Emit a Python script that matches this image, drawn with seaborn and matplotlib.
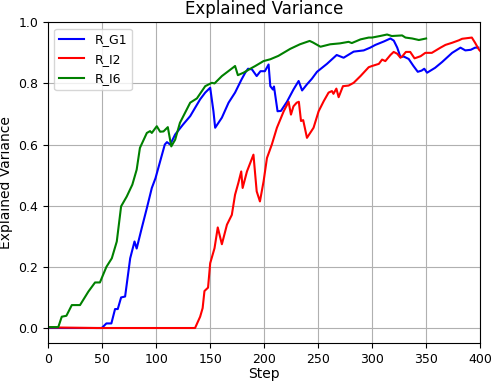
import matplotlib
matplotlib.use("Agg")
import matplotlib.pyplot as plt
import seaborn as sns

plt.rcParams["font.family"] = "DejaVu Sans"

# -----------------------------------------------------------
# Data
# -----------------------------------------------------------
g1_step = [0, 10, 30, 49.7, 54, 58.6, 62, 64.5, 67.6, 71.3, 76, 80, 82, 86.7, 91.4,
           96, 99.4, 103.7, 108, 110, 113, 117.6, 125, 131.5, 136, 140.7, 145.4, 150,
           153, 154.6, 160.8, 167, 173, 179, 182.4, 185, 188.6, 193, 196.5, 200.6, 204,
           205.6, 208, 209, 212.3, 215.4, 221, 227, 231.8, 235, 239.5, 244, 248.8, 258,
           267, 273.4, 282.7, 292, 298, 302.8, 310.5, 316.7, 319.8, 323, 326, 329, 333.6,
           338, 342, 345.6, 348, 350.6, 358, 364.5, 373.8, 381.5, 386, 391, 395, 398]
g1_val = [0.0, 0.0, 0.0, 0.0, 0.015, 0.015, 0.062, 0.062, 0.10, 0.103, 0.228, 0.283, 0.26,
          0.327, 0.392, 0.458, 0.49, 0.545, 0.60, 0.608, 0.60, 0.633, 0.666, 0.693, 0.72,
          0.748, 0.77, 0.786, 0.709, 0.655, 0.688, 0.737, 0.77, 0.813, 0.835, 0.848, 0.846,
          0.824, 0.84, 0.84, 0.862, 0.791, 0.78, 0.79, 0.709, 0.71, 0.74, 0.78, 0.808,
          0.777, 0.797, 0.815, 0.838, 0.864, 0.893, 0.884, 0.904, 0.908, 0.917, 0.926,
          0.937, 0.947, 0.94, 0.917, 0.886, 0.888, 0.88, 0.857, 0.838, 0.842, 0.848, 0.835,
          0.851, 0.87, 0.90, 0.917, 0.908, 0.91, 0.917, 0.917]

i2_step = [0, 45, 136, 140.7, 143, 144.7, 148, 150, 154, 157, 160.8, 165.5, 170, 173,
           176, 178.7, 180, 184, 190, 193, 196, 199.4, 202.5, 207, 211.7, 218, 222.5,
           224.7, 227, 230, 232, 234, 236, 239.5, 245.6, 250.3, 255, 259.5, 262.6, 264,
           266.7, 268.8, 272.8, 278, 282.7, 289, 296.6, 299.7, 306, 309, 312, 316.7,
           319.7, 323, 326, 328, 331, 335, 339, 344.6, 349, 355, 363, 367.6, 373.8, 380,
           383, 392, 395, 398.5, 400]
i2_val = [0.002, 0.0, 0.0, 0.037, 0.065, 0.121, 0.132, 0.212, 0.261, 0.329, 0.274, 0.338,
          0.37, 0.436, 0.474, 0.512, 0.458, 0.512, 0.567, 0.447, 0.414, 0.48, 0.556, 0.60,
          0.655, 0.709, 0.74, 0.698, 0.725, 0.737, 0.74, 0.677, 0.68, 0.622, 0.655, 0.709,
          0.742, 0.77, 0.775, 0.766, 0.783, 0.755, 0.791, 0.793, 0.802, 0.824, 0.853,
          0.857, 0.864, 0.878, 0.873, 0.893, 0.903, 0.897, 0.884, 0.89, 0.903, 0.903,
          0.882, 0.889, 0.90, 0.90, 0.917, 0.926, 0.933, 0.941, 0.946, 0.95, 0.933, 0.911,
          0.905]

i6_step = [0, 9.5, 12.7, 17, 22, 29.6, 37.3, 43.5, 48, 54, 59, 63.6, 67.6, 72.8, 78, 82,
           85, 91.4, 94.4, 96, 100.6, 103.7, 106.8, 110.8, 114, 117.6, 122, 131.5, 137.7,
           145.4, 151.5, 154, 160.8, 171.6, 173, 175.6, 180.8, 188.6, 191.7, 196, 199.3,
           205.6, 213, 224, 233, 242, 245, 252, 261, 270, 278, 281, 289, 296.6, 299.7,
           307, 313.6, 318, 327.5, 330.6, 336.8, 343, 349.7]
i6_val = [0.003, 0.003, 0.037, 0.04, 0.075, 0.075, 0.119, 0.149, 0.149, 0.20, 0.228,
          0.283, 0.398, 0.43, 0.469, 0.518, 0.589, 0.638, 0.644, 0.638, 0.66, 0.642, 0.643,
          0.657, 0.594, 0.616, 0.671, 0.737, 0.751, 0.791, 0.802, 0.80, 0.824, 0.853,
          0.857, 0.827, 0.835, 0.851, 0.857, 0.866, 0.873, 0.879, 0.89, 0.913, 0.928,
          0.939, 0.934, 0.92, 0.928, 0.931, 0.936, 0.932, 0.944, 0.95, 0.95, 0.955, 0.96,
          0.955, 0.957, 0.95, 0.947, 0.942, 0.947]

labels = ["R_G1", "R_I2", "R_I6"]
colors = ["blue", "red", "green"]

# -----------------------------------------------------------
# Plot
# -----------------------------------------------------------
fig = plt.figure(figsize=(4.92, 3.84), dpi=100)
ax = fig.add_axes([0.0976, 0.106, 0.879, 0.836])

series = [(g1_step, g1_val), (i2_step, i2_val), (i6_step, i6_val)]
for (xs, ys), lab, col in zip(series, labels, colors):
    sns.lineplot(x=xs, y=ys, ax=ax, color=col, label=lab, linewidth=1.5,
                 estimator=None, sort=False)

ax.set_xlim(0, 400)
ax.set_ylim(-0.05, 1.0)
ax.grid(True, color="#b0b0b0", linewidth=0.8)
ax.set_axisbelow(True)
ax.set_title("Explained Variance", fontsize=12)
ax.set_xlabel("Step", fontsize=10, labelpad=1)
ax.set_ylabel("Explained Variance", fontsize=10)
ax.tick_params(labelsize=9)
ax.legend(loc="upper left", fontsize=9)

fig.savefig("out.png", dpi=100)
